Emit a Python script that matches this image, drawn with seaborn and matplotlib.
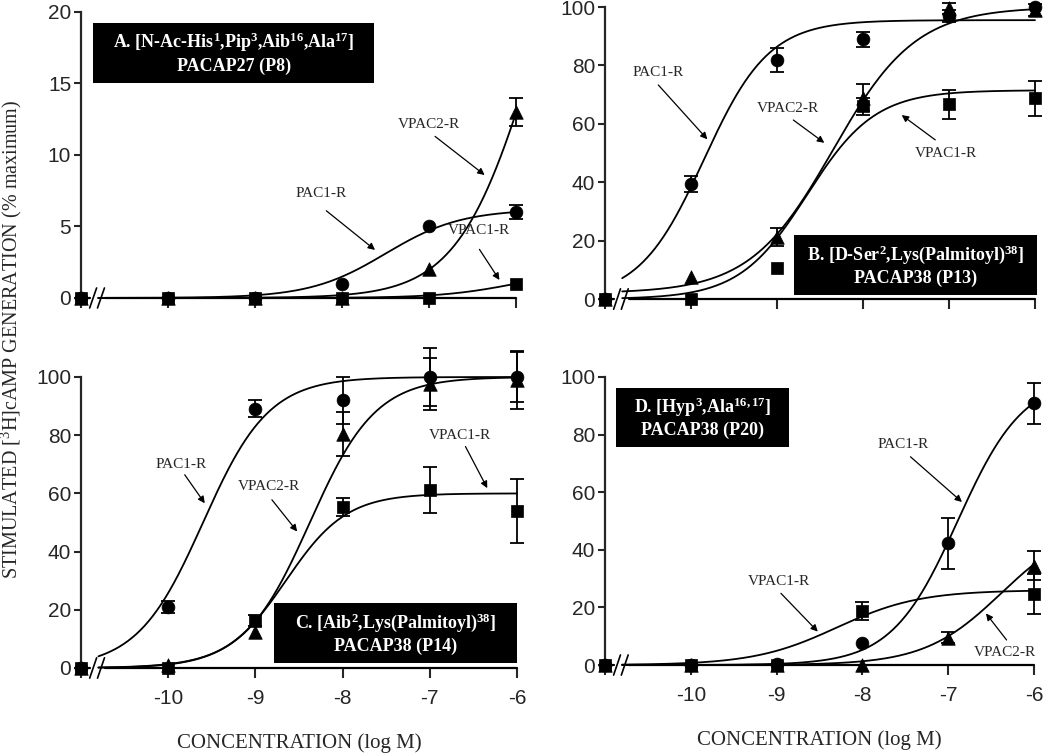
import numpy as np
import pandas as pd
import matplotlib
matplotlib.use("Agg")
import matplotlib.pyplot as plt
from matplotlib.patches import Rectangle
import seaborn as sns

# ---------------- data ----------------
LOG_CONC = [-11, -10, -9, -8, -7, -6]          # -11 = basal (left of axis break)
XTICK_LABELS = ["", "-10", "-9", "-8", "-7", "-6"]

# Panel A  (P8)
A_PAC1 = [0, 0, 0, 1.0, 5.0, 6.0]
A_PAC1_SEM = [0, 0, 0, 0, 0, 0.5]
A_VPAC1 = [0, 0, 0, 0, 0, 1.0]
A_VPAC1_SEM = [0, 0, 0, 0, 0, 0]
A_VPAC2 = [0, 0, 0, 0, 2.0, 13.0]
A_VPAC2_SEM = [0, 0, 0, 0, 0, 1.0]
# fit params: bottom, top, logEC50, hill
A_PAC1_FIT = [0, 6.2, -7.5, 1.0]
A_VPAC1_FIT = [0, 2.0, -6.0, 1.0]
A_VPAC2_FIT = [0, 33.4, -5.8, 1.0]

# Panel B  (P13)
B_PAC1 = [0, 39.5, 81.8, 88.9, 97, 100]
B_PAC1_SEM = [0, 2.7, 4, 2.5, 2, 0]
B_VPAC1 = [0, 0, 10.7, 66, 66.7, 68.7]
B_VPAC1_SEM = [0, 0, 0, 3, 5, 6]
B_VPAC2 = [0, 7.6, 21.3, 69, 99.5, 99]
B_VPAC2_SEM = [0, 0, 3, 4.5, 2, 2]
B_PAC1_FIT = [0, 95.5, -9.85, 1.15]
B_VPAC1_FIT = [0, 71.5, -8.65, 1.1]
B_VPAC2_FIT = [2, 100, -8.35, 0.9]

# Panel C  (P14)
C_PAC1 = [0, 20.9, 89.1, 92, 100, 100]
C_PAC1_SEM = [0, 2, 3, 8, 10, 8.5]
C_VPAC1 = [0, 0, 16.3, 55.3, 61.2, 54]
C_VPAC1_SEM = [0, 0, 2, 3, 8, 11]
C_VPAC2 = [0, 1, 12.5, 80.5, 97.7, 99]
C_VPAC2_SEM = [0, 0, 0, 7.5, 9, 10]
C_PAC1_FIT = [0, 100, -9.6, 1.15]
C_VPAC1_FIT = [0, 60, -8.65, 1.25]
C_VPAC2_FIT = [0, 100, -8.375, 1.15]

# Panel D  (P20)
D_PAC1 = [0, 0, 0.5, 7.7, 42.2, 90.8]
D_PAC1_SEM = [0, 0, 0, 0, 9, 7]
D_VPAC1 = [0, 0, 0, 18.8, np.nan, 24.6]
D_VPAC1_SEM = [0, 0, 0, 3, 0, 7]
D_VPAC2 = [0, 0, 0, 0, 9.5, 34.5]
D_VPAC2_SEM = [0, 0, 0, 0, 2, 5]
D_PAC1_FIT = [0, 100, -6.89, 1.13]
D_VPAC1_FIT = [0, 26, -8.3, 0.9]
D_VPAC2_FIT = [0, 50, -6.38, 0.97]

TITLES = [
    r"A. [N-Ac-His$^{\mathbf{1}}$,Pip$^{\mathbf{3}}$,Aib$^{\mathbf{16}}$,Ala$^{\mathbf{17}}$]" + "\nPACAP27 (P8)",
    r"B. [D-Ser$^{\mathbf{2}}$,Lys(Palmitoyl)$^{\mathbf{38}}$]" + "\nPACAP38 (P13)",
    r"C. [Aib$^{\mathbf{2}}$,Lys(Palmitoyl)$^{\mathbf{38}}$]" + "\nPACAP38 (P14)",
    r"D. [Hyp$^{\mathbf{3}}$,Ala$^{\mathbf{16,17}}$]" + "\nPACAP38 (P20)",
]
YLABEL = r"STIMULATED [$^{\mathrm{3}}$H]cAMP GENERATION (% maximum)"
XLABEL = "CONCENTRATION (log M)"

# ---------------- style ----------------
sns.set_style("ticks")
plt.rcParams["font.family"] = ["Liberation Sans", "DejaVu Sans"]
plt.rcParams["mathtext.fontset"] = "custom"
plt.rcParams["mathtext.rm"] = "Liberation Serif"
plt.rcParams["mathtext.bf"] = "Liberation Serif:bold"
plt.rcParams["mathtext.it"] = "Liberation Serif:italic"
SERIF = ["Liberation Serif", "DejaVu Serif"]


def logistic(x, p):
    b, t, e, h = p
    return b + (t - b) / (1 + 10 ** (h * (e - x)))


fig = plt.figure(figsize=(10.5, 7.54), dpi=100)
positions = [
    [0.0771, 0.6048, 0.4143, 0.3793],
    [0.5762, 0.6034, 0.4095, 0.3873],
    [0.0771, 0.1141, 0.4152, 0.3859],
    [0.5762, 0.1180, 0.4086, 0.3820],
]

panels = [
    dict(pac1=(A_PAC1, A_PAC1_SEM, A_PAC1_FIT), vpac1=(A_VPAC1, A_VPAC1_SEM, A_VPAC1_FIT),
         vpac2=(A_VPAC2, A_VPAC2_SEM, A_VPAC2_FIT), ymax=20, yticks=[0, 5, 10, 15, 20],
         box=(0.028, 0.752, 0.646, 0.21),
         labels=[("VPAC2-R", (-7.0, 12.1), (-6.93, 11.3), (-6.36, 8.6)),
                 ("PAC1-R", (-8.24, 7.3), (-8.18, 6.1), (-7.62, 3.36)),
                 ("VPAC1-R", (-6.42, 4.75), (-6.42, 3.4), (-6.19, 1.26))]),
    dict(pac1=(B_PAC1, B_PAC1_SEM, B_PAC1_FIT), vpac1=(B_VPAC1, B_VPAC1_SEM, B_VPAC1_FIT),
         vpac2=(B_VPAC2, B_VPAC2_SEM, B_VPAC2_FIT), ymax=100, yticks=[0, 20, 40, 60, 80, 100],
         box=(0.44, 0.014, 0.565, 0.205),
         labels=[("PAC1-R", (-10.38, 77.7), (-10.38, 73.3), (-9.81, 54.7)),
                 ("VPAC2-R", (-8.87, 65.3), (-8.81, 61.3), (-8.45, 53.5)),
                 ("VPAC1-R", (-7.04, 49.7), (-7.16, 54.5), (-7.55, 63.0))]),
    dict(pac1=(C_PAC1, C_PAC1_SEM, C_PAC1_FIT), vpac1=(C_VPAC1, C_VPAC1_SEM, C_VPAC1_FIT),
         vpac2=(C_VPAC2, C_VPAC2_SEM, C_VPAC2_FIT), ymax=100, yticks=[0, 20, 40, 60, 80, 100],
         box=(0.443, 0.017, 0.557, 0.206),
         labels=[("PAC1-R", (-9.85, 69.8), (-9.81, 66.4), (-9.58, 56.6)),
                 ("VPAC2-R", (-8.84, 62.4), (-8.81, 57.8), (-8.52, 46.9)),
                 ("VPAC1-R", (-6.65, 79.8), (-6.59, 76.1), (-6.34, 61.8))]),
    dict(pac1=(D_PAC1, D_PAC1_SEM, D_PAC1_FIT), vpac1=(D_VPAC1, D_VPAC1_SEM, D_VPAC1_FIT),
         vpac2=(D_VPAC2, D_VPAC2_SEM, D_VPAC2_FIT), ymax=100, yticks=[0, 20, 40, 60, 80, 100],
         box=(0.026, 0.757, 0.404, 0.205),
         labels=[("PAC1-R", (-7.52, 76.7), (-7.44, 72.3), (-6.84, 56.6)),
                 ("VPAC1-R", (-8.97, 28.9), (-8.95, 24.9), (-8.52, 11.6)),
                 ("VPAC2-R", (-6.34, 4.3), (-6.32, 8.7), (-6.56, 17.9))]),
]

MARKERS = {"pac1": ("o", 85), "vpac1": ("s", 70), "vpac2": ("^", 95)}
x_curve = np.linspace(-10.8, -6, 300)

for i, (pos, pd_) in enumerate(zip(positions, panels)):
    ax = fig.add_axes(pos)
    ymax = pd_["ymax"]
    for key in ["pac1", "vpac1", "vpac2"]:
        vals, sem, fit = pd_[key]
        sns.lineplot(x=x_curve, y=logistic(x_curve, fit), color="k", lw=1.3, ax=ax,
                     clip_on=False, zorder=3)
        df = pd.DataFrame({"x": LOG_CONC, "y": vals, "e": sem}).dropna()
        de = df[df["e"] > 0]
        if len(de):
            ax.errorbar(de["x"], de["y"], yerr=de["e"], fmt="none", ecolor="k",
                        elinewidth=1.3, capsize=5, capthick=1.3, clip_on=False, zorder=4)
        m, s = MARKERS[key]
        sns.scatterplot(data=df, x="x", y="y", marker=m, s=s, color="k", edgecolor="k",
                        linewidth=0.5, ax=ax, clip_on=False, zorder=5, legend=False)

    ax.set_xlim(-11, -6)
    ax.set_ylim(0, ymax)
    ax.set_xticks(LOG_CONC)
    if i >= 2:
        ax.set_xticklabels(XTICK_LABELS)
        ax.set_xlabel(XLABEL, family=SERIF, fontsize=15, labelpad=18)
    else:
        ax.set_xticklabels([])
        ax.set_xlabel("")
    ax.set_ylabel("")
    ax.set_yticks(pd_["yticks"])
    ax.tick_params(direction="out", length=7, width=1.5, labelsize=15, pad=2)
    ax.tick_params(axis="y", length=5)
    ax.tick_params(axis="x", pad=8)
    sns.despine(ax=ax)
    ax.spines["bottom"].set_visible(False)
    ax.spines["left"].set_linewidth(1.6)
    # broken x axis
    ax.plot([-11, -10.9], [0, 0], color="k", lw=1.6, clip_on=False, zorder=2)
    ax.plot([-10.72, -6], [0, 0], color="k", lw=1.6, clip_on=False, zorder=2)
    tr = ax.get_xaxis_transform()
    for xc in (-10.86, -10.77):
        ax.plot([xc - 0.04, xc + 0.04], [-0.035, 0.035], color="k", lw=1.2,
                transform=tr, clip_on=False, zorder=2)

    # label box
    bx, by, bw, bh = pd_["box"]
    ax.add_patch(Rectangle((bx, by), bw, bh, transform=ax.transAxes, facecolor="black",
                           edgecolor="none", clip_on=False, zorder=6))
    ax.text(bx + bw / 2, by + bh / 2, TITLES[i], transform=ax.transAxes, ha="center",
            va="center", color="white", fontsize=13, fontweight="bold", family=SERIF,
            linespacing=1.25, zorder=7)

    # receptor labels with arrows
    for txt, tpos, start, tip in pd_["labels"]:
        ax.text(tpos[0], tpos[1], txt, ha="center", va="center", fontsize=11,
                family=SERIF, zorder=6)
        ax.annotate("", xy=tip, xytext=start,
                    arrowprops=dict(arrowstyle="-|>", color="k", lw=0.9,
                                    mutation_scale=10, shrinkA=0, shrinkB=0),
                    zorder=6)

fig.text(0.011, 0.55, YLABEL, rotation=90, ha="center", va="center", fontsize=14.5,
         family=SERIF)

fig.savefig("out.png", dpi=100)
